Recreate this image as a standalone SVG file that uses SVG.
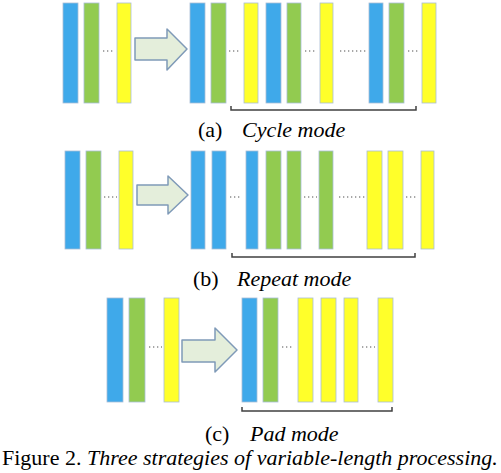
<svg xmlns="http://www.w3.org/2000/svg" width="501" height="473" viewBox="0 0 501 473">
<style>
.b{fill:#3fa9ea;stroke:#a9bdd6;stroke-width:0.8}
.g{fill:#92cb50;stroke:#a9bdd6;stroke-width:0.8}
.y{fill:#ffff2a;stroke:#a9bdd6;stroke-width:0.8}
.d{stroke:#8a8a8a;stroke-width:1.3;stroke-dasharray:1.3 2.7;fill:none}
.arr{fill:#e4eedb;stroke:#7f9ab8;stroke-width:1.5;stroke-linejoin:round}
.br{fill:none;stroke:#404040;stroke-width:1.5}
.t{font-family:"Liberation Serif","Times New Roman",serif;font-size:22px;fill:#000}
.i{font-style:italic}
</style>
<rect width="501" height="473" fill="#fff"/>
<g id="row-a">
<g id="a-in"><rect class="b" x="63" y="3" width="15" height="100"/><rect class="g" x="84" y="3" width="15" height="100"/><line class="d" x1="103" y1="51" x2="115" y2="51"/><rect class="y" x="117" y="3" width="14" height="100"/></g>
<g id="a-out"><rect class="b" x="190" y="3" width="15" height="100"/><rect class="g" x="211" y="3" width="15" height="100"/><line class="d" x1="229" y1="51" x2="241" y2="51"/><rect class="y" x="244" y="3" width="14" height="100"/><rect class="b" x="266" y="3" width="15" height="100"/><rect class="g" x="287" y="3" width="14" height="100"/><line class="d" x1="305" y1="51" x2="317" y2="51"/><rect class="y" x="320" y="3" width="13" height="100"/><line class="d" x1="340" y1="51" x2="367" y2="51"/><rect class="b" x="369" y="3" width="14" height="100"/><rect class="g" x="389" y="3" width="15" height="100"/><line class="d" x1="408" y1="51" x2="420" y2="51"/><rect class="y" x="422" y="3" width="14" height="100"/></g>
</g>
<g id="row-b">
<g id="b-in"><rect class="b" x="65" y="151" width="15" height="98"/><rect class="g" x="86" y="151" width="15" height="98"/><line class="d" x1="104" y1="197" x2="117" y2="197"/><rect class="y" x="119" y="151" width="14" height="98"/></g>
<g id="b-out"><rect class="b" x="191" y="151" width="14" height="98"/><rect class="b" x="212" y="151" width="14" height="98"/><line class="d" x1="230" y1="197" x2="242" y2="197"/><rect class="b" x="246" y="151" width="12" height="98"/><rect class="g" x="266" y="151" width="15" height="98"/><rect class="g" x="287" y="151" width="14" height="98"/><line class="d" x1="304" y1="197" x2="317" y2="197"/><rect class="g" x="319" y="151" width="14" height="98"/><line class="d" x1="339" y1="197" x2="366" y2="197"/><rect class="y" x="367" y="151" width="15" height="98"/><rect class="y" x="388" y="151" width="15" height="98"/><line class="d" x1="406" y1="197" x2="418" y2="197"/><rect class="y" x="421" y="151" width="13" height="98"/></g>
</g>
<g id="row-c">
<g id="c-in"><rect class="b" x="107" y="298" width="16" height="104"/><rect class="g" x="129" y="298" width="16" height="104"/><line class="d" x1="149" y1="347" x2="162" y2="347"/><rect class="y" x="164" y="298" width="15" height="104"/></g>
<g id="c-out"><rect class="b" x="242" y="298" width="15" height="104"/><rect class="g" x="263" y="298" width="15" height="104"/><line class="d" x1="282" y1="347" x2="294" y2="347"/><rect class="y" x="298" y="298" width="15" height="104"/><rect class="y" x="321" y="298" width="15" height="104"/><rect class="y" x="344" y="298" width="14" height="104"/><line class="d" x1="362" y1="347" x2="375" y2="347"/><rect class="y" x="378" y="298" width="15" height="104"/></g>
</g>
<g id="connectors">
<path class="arr" d="M135,38 H167 V29 L187,49 L167,70 V60 H135 Z"/>
<path class="arr" d="M137,185 H168 V176 L188,195 L168,214 V205 H137 Z"/>
<path class="arr" d="M182,340 H215 V328 L237,350 L215,372 V362 H182 Z"/>
<path class="br" d="M231,106 V110 H416 V106"/>
<path class="br" d="M232,253 V257 H415 V253"/>
<path class="br" d="M242,407 V411 H392 V407"/>
</g>
<g id="labels">
<text class="t" x="198" y="137">(a)</text><text class="t i" x="242" y="137">Cycle mode</text>
<text class="t" x="193" y="286">(b)</text><text class="t i" x="237" y="286">Repeat mode</text>
<text class="t" x="205" y="441">(c)</text><text class="t i" x="250" y="441">Pad mode</text>
<text class="t" x="2" y="465">Figure 2. <tspan class="i">Three strategies of variable-length processing.</tspan></text>
</g>
</svg>
